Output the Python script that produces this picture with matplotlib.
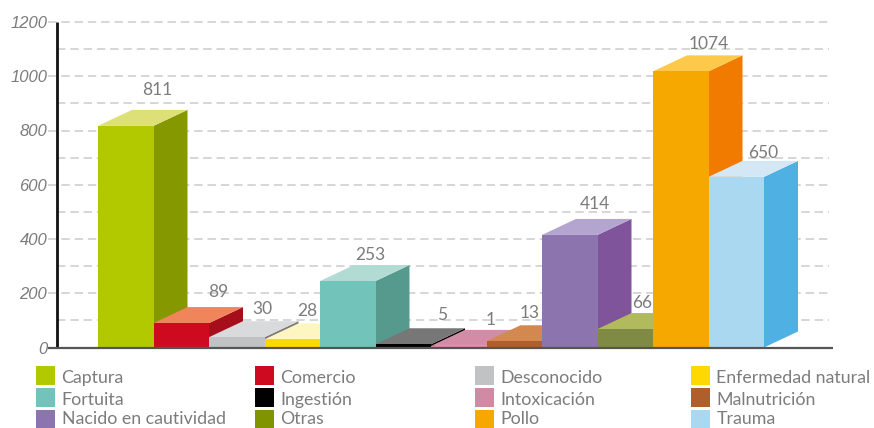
import matplotlib
matplotlib.use("Agg")
import matplotlib.pyplot as plt
from matplotlib.patches import Patch

plt.rcParams['font.family'] = ['Lato', 'DejaVu Sans']

categories = ["Captura", "Comercio", "Desconocido", "Enfermedad natural",
              "Fortuita", "Ingestión", "Intoxicación", "Malnutrición",
              "Nacido en cautividad", "Otras", "Pollo", "Trauma"]
# numbers printed above the bars
printed_values = [811, 89, 30, 28, 253, 5, 1, 13, 414, 66, 1074, 650]
# heights as drawn in the picture, read against the axis (they differ a little from the printed numbers)
drawn_heights = [817, 90, 38, 30, 245, 12, 6, 23, 415, 68, 1018, 629]

front_colors = ["#b2c900", "#cd0a1f", "#c1c2c4", "#ffd800", "#72c3b9", "#000000",
                "#d18aa4", "#b15e2d", "#8c74af", "#7f8a44", "#f6a800", "#abd8f1"]
side_colors = ["#869800", "#a60e1b", "#7b7b7b", "#c8a800", "#569a8e", "#000000",
               "#b87690", "#a05020", "#80549a", "#6f7a38", "#f07b00", "#4fb0e3"]
top_colors = ["#dce077", "#f0845b", "#d9dadb", "#fef6c0", "#b2dcd3", "#777777",
              "#d48ca6", "#d2884e", "#b3a5cf", "#b2ba5e", "#fdc94b", "#d3e7f5"]
legend_colors = ["#b2c900", "#cd0a1f", "#c1c2c4", "#ffd800", "#72c3b9", "#000000",
                 "#d18aa4", "#b15e2d", "#8c74af", "#809400", "#f6a800", "#abd8f1"]
y_ticks = [0, 200, 400, 600, 800, 1000, 1200]
minor_ticks = [100, 300, 500, 700, 900, 1100]

# label offsets from the top-left front corner of each bar, in pixels
label_dx = [59, 65, 53, 43, 50, 67, 60, 43, 53, 45, 56, 55]
label_dy = [36, 31, 28, 28, 26, 29, 26, 28, 31, 26, 27, 24]

W, H = 874, 428
DPI = 100
PX = 72 / DPI
fig = plt.figure(figsize=(W / DPI, H / DPI), dpi=DPI, facecolor="white")

ax_left, ax_right, y0, y1200 = 48, 833, 347.5, 22
ax = fig.add_axes([ax_left / W, 1 - y0 / H, (ax_right - ax_left) / W, (y0 - y1200) / H])
ax.patch.set_visible(False)
for s in ax.spines.values():
    s.set_visible(False)

pitch, first = 55.5, 98
ax.set_xlim((ax_left - first) / pitch, (ax_right - first) / pitch)
ax.set_ylim(0, 1200)
px_y = 1200 / (y0 - y1200)
depth_x, depth_y = 34 / pitch, 16 * px_y
axis_x = (57 - first) / pitch
grid_end = (829 - first) / pitch

ax.set_xticks([])
ax.set_yticks(y_ticks)
ax.tick_params(axis="y", length=0, pad=0.5)
for lab in ax.get_yticklabels():
    lab.set_family(['Liberation Sans'])
    lab.set_fontsize(12)
    lab.set_fontstyle("italic")
    lab.set_color("#7c7c7c")

grid = dict(color="#cccccc", lw=1.1, linestyle=(0, (5.5, 3.2)), zorder=1)
ax.hlines(y_ticks[1:], ax.get_xlim()[0], grid_end, clip_on=False, **grid)
ax.hlines(minor_ticks, axis_x, grid_end, **grid)

for i, (h, fc, sc, tc) in enumerate(zip(drawn_heights, front_colors, side_colors, top_colors)):
    z = 3 + i
    ax.fill([i + 1, i + 1 + depth_x, i + 1 + depth_x, i + 1],
            [0, depth_y, h + depth_y, h], color=sc, lw=0, zorder=z)
    ax.fill([i, i + depth_x, i + 1 + depth_x, i + 1],
            [h, h + depth_y, h + depth_y, h], color=tc, lw=0, zorder=z)
    ax.bar(i, h, width=1, align="edge", color=fc, lw=0, zorder=z)
    ax.annotate(str(printed_values[i]), (i, h),
                xytext=(label_dx[i] * PX, label_dy[i] * PX), textcoords="offset points",
                ha="center", va="center", fontsize=12.5, color="#7c7c7c", zorder=30)

ax.vlines(axis_x, 0, 1200, color="#111111", lw=2.0, zorder=20)
ax.hlines(0, ax.get_xlim()[0], ax.get_xlim()[1], color="#555555", lw=1.6, zorder=21, clip_on=False)

# legend: four columns, filled row by row
col_x = [36, 255, 475, 691]
fs = 12.8
fs_px = fs / PX
hh = (19 / fs_px - 0.245) / 0.65
text_shift = [-1.5, -1.5, 1.0]
for c, x in enumerate(col_x):
    idx = range(c, len(categories), 4)
    leg = fig.legend(handles=[Patch(color=legend_colors[i], lw=0) for i in idx],
                     labels=[categories[i] for i in idx],
                     loc="upper left", bbox_to_anchor=(x / W, 1 - 366 / H),
                     bbox_transform=fig.transFigure, frameon=False, borderpad=0, borderaxespad=0,
                     handlelength=19 / fs_px, handleheight=hh,
                     handletextpad=6.5 / fs_px, labelspacing=3.0 / fs_px, fontsize=fs,
                     labelcolor="#7c7c7c")
    for t, dy in zip(leg.get_texts(), text_shift):
        t.set_y(dy)

fig.savefig("out.png", dpi=DPI, facecolor="white")
